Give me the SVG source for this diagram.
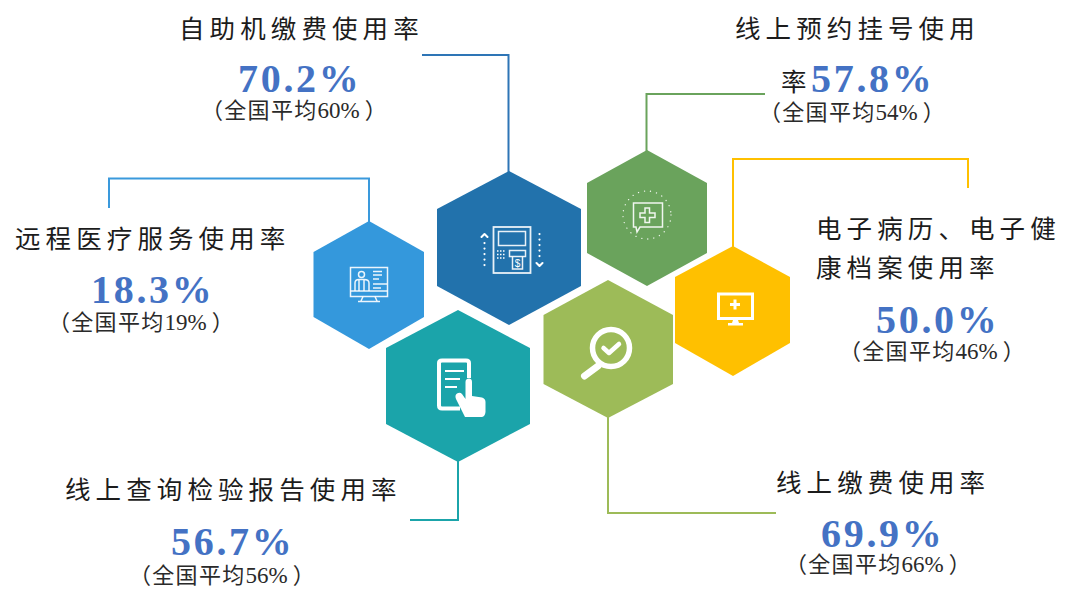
<svg xmlns="http://www.w3.org/2000/svg" width="1080" height="599" viewBox="0 0 1080 599">
<style>
text{font-family:"Noto Sans CJK SC","Noto Sans",sans-serif}
.t{font-size:25.500px;letter-spacing:5.100px;fill:#1c1c1c}
.n{font-family:"Liberation Serif","Noto Sans CJK SC",serif;font-size:40px;font-weight:bold;fill:#4472c4;letter-spacing:2.700px}
.a{font-size:22px;fill:#2a2a2a;letter-spacing:1.300px}
.a .s{font-family:"Liberation Serif",serif;font-size:23px;letter-spacing:0}
.c{fill:none;stroke-width:2}
.w{fill:none;stroke:#fff;stroke-width:1.500;opacity:.9}
.w2{fill:none;stroke:#fff;stroke-width:3;stroke-linecap:round;stroke-linejoin:round}
.d{fill:none;stroke:#fff;stroke-width:2.200;stroke-dasharray:.1 5.400;stroke-linecap:round}
</style>
<g id="connectors">
<path class="c" d="M422 55H508.500V172" stroke="#2e75b6"/>
<path class="c" d="M765 94H646.500V151" stroke="#6aa35c"/>
<path class="c" d="M109 208V178.500H369V222" stroke="#3a99dc"/>
<path class="c" d="M968 188V159H733V247" stroke="#ffc000"/>
<path class="c" d="M410 520H458V461" stroke="#1ba4aa"/>
<path class="c" d="M776 513H608V417" stroke="#9dbb58"/>
</g>
<g id="node-telemedicine">
<polygon points="369,221 424,252 424,317 369,349 313.500,317 313.500,252" fill="#3498dc"/>
<rect class="w" x="350.500" y="267.500" width="37" height="29"/><path class="w" d="M350.500 291H387.500M363 296.500L361 301M375 296.500L377 301M358 301.500H380"/>
<circle class="w" cx="361.500" cy="274.500" r="3"/><path class="w" d="M355 291V283Q355 279.500 359 279.500H364Q369 279.500 369 283V291M359 280V291M364 280V291"/>
<path class="w" d="M373 271.500H382M373 275H382M373 279H379M373 284H387M373 288H381"/>
</g>
<g id="node-kiosk">
<polygon points="509,171 581,209 581,286 509,325 437,286 437,209" fill="#2272ac"/>
<rect class="w" x="493.500" y="227" width="37" height="46" style="stroke-width:1.800"/>
<rect class="w" x="498.500" y="231.500" width="27" height="14"/>
<path d="M497 251H506M497 254.500H506M497 258H506" fill="none" stroke="#fff" stroke-width="1.500" stroke-dasharray="1.500 1.500"/>
<rect class="w" x="509.500" y="250.500" width="16" height="6"/><path class="w" d="M512.500 256.500V269H522.500V256.500"/>
<text x="517.500" y="267" font-size="10" fill="#fff" text-anchor="middle" style="font-family:'Liberation Sans',sans-serif">$</text>
<path class="d" d="M484.500 243V267M539.500 234V258"/>
<path class="w2" style="stroke-width:2" d="M481.500 237L484.500 234L487.500 237M536.500 263L539.500 266L542.500 263"/>
</g>
<g id="node-booking">
<polygon points="647,150 707,183 707,253 647,286 587,253 587,183" fill="#6aa35c"/>
<circle cx="647" cy="215" r="24" fill="none" stroke="#fff" stroke-width="1.300" stroke-dasharray=".1 6" stroke-linecap="round" opacity=".9"/>
<path class="w" d="M633.500 203H662.500V227H640L637 232L636 227H633.500Z"/>
<path class="w" d="M645 208H649.500V213H655V217.500H649.500V222.500H645V217.500H640V213H645Z"/>
</g>
<g id="node-records">
<polygon points="733,246 790,277 790,343 733,376 675,343 675,277" fill="#ffc000"/>
<path d="M718.500 294H752.500V318.500H718.500Z" fill="none" stroke="#fff" stroke-width="3"/>
<path d="M717 318H754V320H717ZM733 320H738L739 323H743V325.500H728V323H732Z" fill="#fff"/>
<path d="M735 299.500V309.500M730 304.500H740" stroke="#fff" stroke-width="3" fill="none"/>
</g>
<g id="node-payment">
<polygon points="608,280 673,315 673,384 608,418 543.500,384 543.500,315" fill="#9dbb58"/>
<circle cx="611" cy="348" r="18.500" fill="none" stroke="#fff" stroke-width="5.500"/>
<path class="w2" style="stroke-width:7" d="M598 366L584.500 376"/>
<path class="w2" style="stroke-width:4.500" d="M603.500 348L609 353L619 344"/>
</g>
<g id="node-report">
<polygon points="458,310 530,348 530,424 458,462 386,424 386,348" fill="#1ba4aa"/>
<path d="M460 408.500H442Q439 408.500 439 405.500V363Q439 360.500 442 360.500H466Q469 360.500 469 363V378" fill="none" stroke="#fff" stroke-width="4"/>
<path d="M445 371H464M445 379H460M445 387H457" stroke="#fff" stroke-width="2.200" fill="none"/>
<path d="M465.500 382Q465.500 378.500 469 378.500Q472 378.500 472 382V396L482 397.500Q485.500 398.500 485.500 402V412Q485 416.500 482 417H465L456 399Q454.500 395 457 393.500Q460 392 462 394L465.500 399Z" fill="#fff"/>
</g>
<g id="label-kiosk">
<text class="t" x="179" y="38">自助机缴费使用率</text>
<text class="n" x="238" y="92">70.2%</text>
<text class="a" x="201" y="118">（全国平均<tspan class="s">60%</tspan><tspan dx="5">）</tspan></text>
</g>
<g id="label-booking">
<text class="t" x="735" y="38">线上预约挂号使用</text>
<text class="t" x="781" y="91">率</text><text class="n" x="811" y="92">57.8%</text>
<text class="a" x="759" y="120">（全国平均<tspan class="s">54%</tspan><tspan dx="5">）</tspan></text>
</g>
<g id="label-telemedicine">
<text class="t" x="15" y="248">远程医疗服务使用率</text>
<text class="n" x="91" y="303">18.3%</text>
<text class="a" x="48" y="330">（全国平均<tspan class="s">19%</tspan><tspan dx="5">）</tspan></text>
</g>
<g id="label-records">
<text class="t" x="816" y="238">电子病历、电子健</text>
<text class="t" x="816" y="277">康档案使用率</text>
<text class="n" x="876" y="333">50.0%</text>
<text class="a" x="839" y="359">（全国平均<tspan class="s">46%</tspan><tspan dx="5">）</tspan></text>
</g>
<g id="label-report">
<text class="t" x="65" y="499">线上查询检验报告使用率</text>
<text class="n" x="171" y="555">56.7%</text>
<text class="a" x="129" y="583">（全国平均<tspan class="s">56%</tspan><tspan dx="5">）</tspan></text>
</g>
<g id="label-payment">
<text class="t" x="776" y="492">线上缴费使用率</text>
<text class="n" x="821" y="547">69.9%</text>
<text class="a" x="785" y="572">（全国平均<tspan class="s">66%</tspan><tspan dx="5">）</tspan></text>
</g>
</svg>
